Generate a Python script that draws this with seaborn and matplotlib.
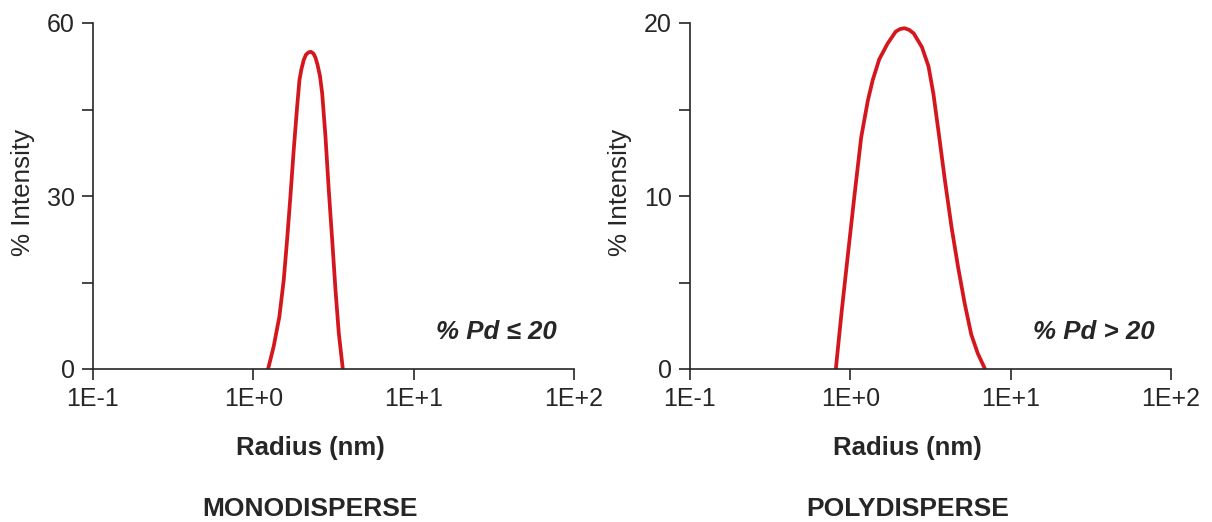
import numpy as np
import pandas as pd
import matplotlib
matplotlib.use("Agg")
import matplotlib.pyplot as plt
import seaborn as sns
from matplotlib.ticker import NullLocator, FixedLocator

# values
mono_radius = [1.236, 1.339, 1.454, 1.547, 1.624, 1.703, 1.786, 1.876, 1.939, 1.995,
               2.063, 2.129, 2.207, 2.288, 2.371, 2.441, 2.512, 2.604, 2.688, 2.818,
               2.955, 3.103, 3.254, 3.413, 3.615]
mono_intensity = [0, 3.9, 9.1, 15.4, 22.4, 29.9, 38.0, 45.5, 50.1, 52.0,
                  53.6, 54.5, 54.9, 55.0, 54.7, 54.0, 52.8, 50.8, 47.8, 40.3,
                  31.0, 22.4, 13.7, 6.2, 0]

poly_radius = [0.812, 0.880, 0.968, 1.063, 1.169, 1.285, 1.379, 1.514, 1.705, 1.918,
               2.040, 2.178, 2.330, 2.485, 2.798, 3.072, 3.298, 3.539, 3.890, 4.278,
               4.697, 5.164, 5.677, 6.234, 6.921]
poly_intensity = [0, 3.2, 6.7, 10.1, 13.4, 15.5, 16.7, 17.9, 18.8, 19.5,
                  19.65, 19.7, 19.6, 19.4, 18.6, 17.5, 15.9, 13.8, 10.9, 8.2,
                  5.9, 3.8, 2.0, 0.9, 0]

x_ticks = [0.1, 1, 10, 100]
x_tick_labels = ["1E-1", "1E+0", "1E+1", "1E+2"]

mono_yticks = [0, 30, 60]
mono_yminor = [15, 45]
poly_yticks = [0, 10, 20]
poly_yminor = [5, 15]

titles = ["MONODISPERSE", "POLYDISPERSE"]
notes = ["% Pd \u2264 20", "% Pd > 20"]

sns.set_style("ticks")
plt.rcParams["font.family"] = ["Liberation Sans", "DejaVu Sans"]

ink = "#262626"
red = "#d4171f"

fig = plt.figure(figsize=(12.12, 5.22), dpi=100)
ax1 = fig.add_axes([93 / 1212, 1 - 369 / 522, 481 / 1212, 346 / 522])
ax2 = fig.add_axes([690 / 1212, 1 - 369 / 522, 481 / 1212, 346 / 522])

panels = [
    (ax1, mono_radius, mono_intensity, mono_yticks, mono_yminor),
    (ax2, poly_radius, poly_intensity, poly_yticks, poly_yminor),
]

for i, (ax, r, inten, yt, ym) in enumerate(panels):
    df = pd.DataFrame({"radius": r, "intensity": inten})
    sns.lineplot(data=df, x="radius", y="intensity", ax=ax, color=red,
                 linewidth=2.7, estimator=None, sort=True)
    ax.lines[-1].set_solid_joinstyle("round")
    ax.set_xscale("log")
    ax.set_xlim(0.1, 100)
    ax.set_ylim(yt[0], yt[-1])
    ax.set_xticks(x_ticks)
    ax.set_xticklabels(x_tick_labels)
    ax.xaxis.set_minor_locator(NullLocator())
    ax.set_yticks(yt)
    ax.yaxis.set_minor_locator(FixedLocator(ym))

    for side in ["top", "right"]:
        ax.spines[side].set_visible(False)
    for side in ["left", "bottom"]:
        ax.spines[side].set_color(ink)
        ax.spines[side].set_linewidth(1.2)

    ax.tick_params(axis="both", which="both", direction="out", length=8,
                   width=1.2, color=ink, labelcolor=ink, labelsize=18, pad=5)

    # the labels below the plot sit a little left of the axis centre
    ax.set_xlabel("Radius (nm)", fontsize=18.5, fontweight="bold", color=ink)
    ax.xaxis.label.set_va("center")
    ax.xaxis.set_label_coords(0.452, -0.228)
    ax.set_ylabel("% Intensity", fontsize=18.7, color=ink)
    ax.yaxis.label.set_va("center")
    ax.yaxis.set_label_coords(-0.146, 0.51)

    ax.text(0.965, 0.108, notes[i], transform=ax.transAxes, ha="right", va="center",
            fontsize=18.6, fontweight="bold", fontstyle="italic", color=ink)
    ax.text(0.452, -0.405, titles[i], transform=ax.transAxes, ha="center", va="center",
            fontsize=19, fontweight="bold", color=ink)

fig.savefig("out.png", dpi=100)
